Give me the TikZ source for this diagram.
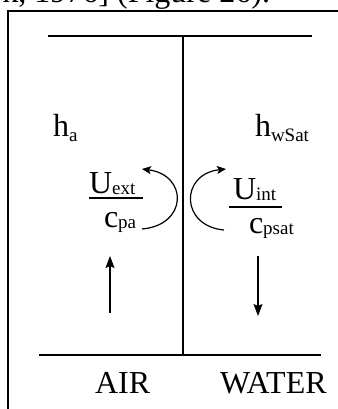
\documentclass[tikz,border=0pt]{standalone}
\usepackage{fontspec}
\setmainfont{Liberation Serif}
\usetikzlibrary{arrows.meta}
\newcommand\subtxt[2][0pt]{\raisebox{#1}{\fontsize{19}{19}\selectfont #2}}
\begin{document}
\begin{tikzpicture}[x=1pt,y=-1pt,
  every node/.style={inner sep=0pt,outer sep=0pt},
  lbl/.style={font=\fontsize{32}{32}\selectfont,anchor=base west},
  frameline/.style={line width=1.6pt},
  wall/.style={line width=1.3pt},
  bar/.style={line width=1.1pt},
  flow/.style={line width=1.2pt,-{Stealth[length=12pt,width=9pt,inset=2pt]}},
  swirl/.style={line width=1.2pt,-{Stealth[length=9pt,width=8pt,inset=2pt]}}]
\useasboundingbox (0,0) rectangle (337,409);
% cut caption text above the frame
\node[lbl,anchor=base east] (caption) at (270,3) {rk, 1976] (Figure 26).};
% outer frame
\coordinate (fbl) at (8,420);
\coordinate (ftl) at (8,11);
\coordinate (ftr) at (345,11);
\draw[frameline] (fbl) -- (ftl) -- (ftr);
% channel lines
\coordinate (tl) at (48,36);
\coordinate (tr) at (312,36);
\coordinate (bl) at (39,355);
\coordinate (br) at (321,355);
\coordinate (wt) at (183,36);
\coordinate (wb) at (183,355);
\draw[wall] (tl) -- (tr);
\draw[wall] (bl) -- (br);
\draw[wall] (wt) -- (wb);
% labels
\node[lbl] (ha) at (53,136) {h\subtxt[-5pt]{a}};
\node[lbl] (hw) at (255,136) {h\subtxt[-5pt]{wSat}};
\node[lbl] (air) at (95,393) {AIR};
\node[lbl] (water) at (220,393) {WATER};
% fractions
\node[lbl] (uext) at (89,193) {U\subtxt[-1pt]{ext}};
\node[lbl] (cpa) at (104,227) {c\subtxt[-1pt]{pa}};
\coordinate (b1l) at (89,198);
\coordinate (b1r) at (143,198);
\draw[bar] (b1l) -- (b1r);
\node[lbl] (uint) at (233,199) {U\subtxt[-1pt]{int}};
\node[lbl] (cpsat) at (249,233) {c\subtxt[-1pt]{psat}};
\coordinate (b2l) at (229,207);
\coordinate (b2r) at (282,207);
\draw[bar] (b2l) -- (b2r);
% curved arrows
\coordinate (s1) at (142,229);
\coordinate (e1) at (142,169);
\draw[swirl] (s1) .. controls (188,225) and (188,175) .. (e1);
\coordinate (s2) at (224,230);
\coordinate (e2) at (226,169);
\draw[swirl] (s2) .. controls (180,226) and (180,174) .. (e2);
% flow arrows
\coordinate (u1) at (110,313);
\coordinate (u2) at (110,256);
\draw[flow] (u1) -- (u2);
\coordinate (d1) at (258,256);
\coordinate (d2) at (258,316);
\draw[flow] (d1) -- (d2);
\end{tikzpicture}
\end{document}
